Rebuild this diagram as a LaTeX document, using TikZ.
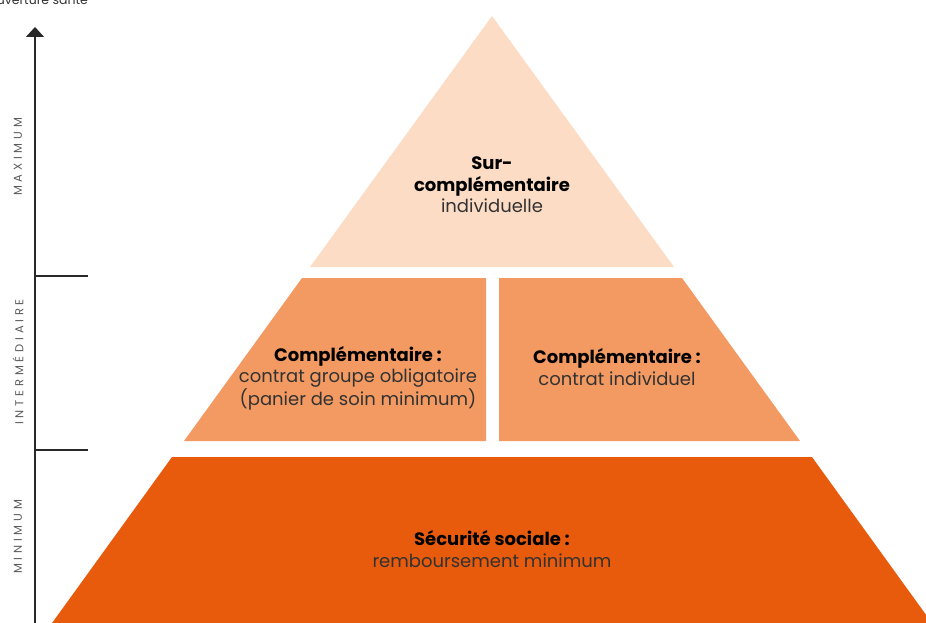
\documentclass[tikz,border=0pt]{standalone}
\usepackage{fontspec}
\setmainfont{Poppins}
\usetikzlibrary{arrows.meta}
\definecolor{lvltop}{RGB}{252,220,196}
\definecolor{lvlmid}{RGB}{243,154,98}
\definecolor{lvlbot}{RGB}{232,91,12}
\definecolor{axisgray}{RGB}{40,40,40}
\definecolor{labelgray}{RGB}{90,90,90}
\definecolor{bodytext}{RGB}{50,50,50}
\tikzset{
  axisline/.style={draw=axisgray, line width=1.3pt},
  levellabel/.style={rotate=90, text=labelgray, font=\fontsize{11.5}{13}\selectfont\addfontfeature{LetterSpace=33}},
  boxtext/.style={align=center, text=bodytext, font=\fontsize{18}{21.5}\selectfont, inner sep=0pt},
}
\begin{document}
\begin{tikzpicture}[x=1pt,y=-1pt]
\useasboundingbox (0,0) rectangle (926,623);
% pyramid levels
\fill[lvltop] (492,16) -- (674,267) -- (310,267) -- cycle;
\fill[lvlmid] (302,278) -- (486,278) -- (486,441) -- (184,441) -- cycle;
\fill[lvlmid] (499,278) -- (682,278) -- (800,441) -- (499,441) -- cycle;
\fill[lvlbot] (172,457) -- (812,457) -- (937,630) -- (47,630) -- cycle;
% axis
\coordinate (axbot) at (35,630);
\coordinate (axtop) at (35,27);
\draw[axisline, -{Triangle[width=18pt,length=10pt]}] (axbot) -- (axtop);
\coordinate (t1a) at (35,276);
\coordinate (t1b) at (88,276);
\coordinate (t2a) at (35,450);
\coordinate (t2b) at (88,450);
\draw[axisline] (t1a) -- (t1b);
\draw[axisline] (t2a) -- (t2b);
% axis title (cut off at top, as in the reference)
\node[anchor=base east, inner sep=0pt, text=bodytext, font=\fontsize{12.5}{14}\selectfont] (axtitle) at (88,5) {Couverture santé};
% level labels
\node[levellabel] (lmax) at (18,157) {MAXIMUM};
\node[levellabel] (lint) at (18,362) {INTERMÉDIAIRE};
\node[levellabel] (lmin) at (18,537) {MINIMUM};
% texts
\node[boxtext] (tsur) at (492,185) {\textcolor{black}{\textbf{Sur-}}\\\textcolor{black}{\textbf{complémentaire}}\\individuelle};
\node[boxtext] (tgrp) at (358,378) {\textcolor{black}{\textbf{Complémentaire :}}\\contrat groupe obligatoire\\(panier de soin minimum)};
\node[boxtext] (tind) at (617,367) {\textcolor{black}{\textbf{Complémentaire :}}\\contrat individuel};
\node[boxtext] (tsec) at (492,549) {\textcolor{black}{\textbf{Sécurité sociale :}}\\remboursement minimum};
\end{tikzpicture}
\end{document}
